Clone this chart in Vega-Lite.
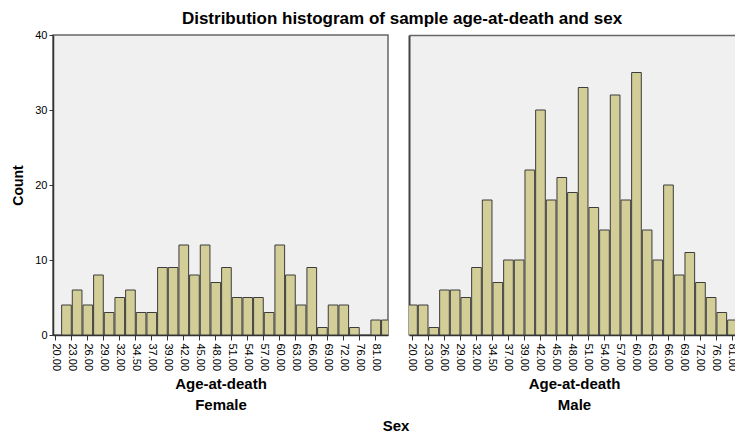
{
  "$schema": "https://vega.github.io/schema/vega-lite/v6.json",
  "background": "white",
  "padding": {"left": 11, "top": 10, "right": 0, "bottom": 2},
  "title": {"text": "Distribution histogram of sample age-at-death and sex", "anchor": "middle", "frame": "bounds", "fontSize": 17, "fontWeight": "bold", "font": "Liberation Sans", "color": "#000000", "offset": 0, "dx": 27},
  "vconcat": [
    {
      "title": {"text": "Sex", "orient": "bottom", "anchor": "middle", "frame": "bounds", "fontSize": 15, "fontWeight": "bold", "font": "Liberation Sans", "color": "#000000", "offset": 6, "dx": 21},
      "spacing": 17,
      "resolve": {"scale": {"x": "independent"}},
      "hconcat": [
        {
          "width": 335,
          "height": 300,
          "data": {"values": [
            {"start": 21, "end": 23, "count": 4}, {"start": 23, "end": 25, "count": 6}, {"start": 25, "end": 27, "count": 4},
            {"start": 27, "end": 29, "count": 8}, {"start": 29, "end": 31, "count": 3}, {"start": 31, "end": 33, "count": 5},
            {"start": 33, "end": 35, "count": 6}, {"start": 35, "end": 37, "count": 3}, {"start": 37, "end": 39, "count": 3},
            {"start": 39, "end": 41, "count": 9}, {"start": 41, "end": 43, "count": 9}, {"start": 43, "end": 45, "count": 12},
            {"start": 45, "end": 47, "count": 8}, {"start": 47, "end": 49, "count": 12}, {"start": 49, "end": 51, "count": 7},
            {"start": 51, "end": 53, "count": 9}, {"start": 53, "end": 55, "count": 5}, {"start": 55, "end": 57, "count": 5},
            {"start": 57, "end": 59, "count": 5}, {"start": 59, "end": 61, "count": 3}, {"start": 61, "end": 63, "count": 12},
            {"start": 63, "end": 65, "count": 8}, {"start": 65, "end": 67, "count": 4}, {"start": 67, "end": 69, "count": 9},
            {"start": 69, "end": 71, "count": 1}, {"start": 71, "end": 73, "count": 4}, {"start": 73, "end": 75, "count": 4},
            {"start": 75, "end": 77, "count": 1}, {"start": 79, "end": 81, "count": 2}, {"start": 81, "end": 83, "count": 2}
          ]},
          "mark": {"type": "bar", "clip": true, "fill": "#d3ce97", "stroke": "#3c3c3c", "strokeWidth": 1},
          "encoding": {
            "x": {"field": "start", "type": "quantitative", "bin": "binned",
              "scale": {"domain": [19.57, 82.39], "nice": false, "zero": false},
              "axis": {"values": [20,23,26,29,32,35,38,41,44,47,50,53,56,59,62,65,68,71,74,77,80],
                "labelExpr": "['20.00','23.00','26.00','29.00','32.00','34.50','37.00','39.00','42.00','45.00','48.00','51.00','54.00','57.00','60.00','63.00','66.00','69.00','72.00','76.00','81.00'][round((datum.value-20)/3)]",
                "title": ["Age-at-death", "Female"]}},
            "x2": {"field": "end"},
            "y": {"field": "count", "type": "quantitative",
              "scale": {"domain": [0, 40], "nice": false},
              "axis": {"values": [0, 10, 20, 30, 40], "title": "Count", "titleFontSize": 14, "titlePadding": 9}}
          }
        },
        {
          "width": 330,
          "height": 300,
          "view": {"stroke": null},
          "data": {"values": [
            {"start": 19, "end": 21, "count": 4}, {"start": 21, "end": 23, "count": 4}, {"start": 23, "end": 25, "count": 1},
            {"start": 25, "end": 27, "count": 6}, {"start": 27, "end": 29, "count": 6}, {"start": 29, "end": 31, "count": 5},
            {"start": 31, "end": 33, "count": 9}, {"start": 33, "end": 35, "count": 18}, {"start": 35, "end": 37, "count": 7},
            {"start": 37, "end": 39, "count": 10}, {"start": 39, "end": 41, "count": 10}, {"start": 41, "end": 43, "count": 22},
            {"start": 43, "end": 45, "count": 30}, {"start": 45, "end": 47, "count": 18}, {"start": 47, "end": 49, "count": 21},
            {"start": 49, "end": 51, "count": 19}, {"start": 51, "end": 53, "count": 33}, {"start": 53, "end": 55, "count": 17},
            {"start": 55, "end": 57, "count": 14}, {"start": 57, "end": 59, "count": 32}, {"start": 59, "end": 61, "count": 18},
            {"start": 61, "end": 63, "count": 35}, {"start": 63, "end": 65, "count": 14}, {"start": 65, "end": 67, "count": 10},
            {"start": 67, "end": 69, "count": 20}, {"start": 69, "end": 71, "count": 8}, {"start": 71, "end": 73, "count": 11},
            {"start": 73, "end": 75, "count": 7}, {"start": 75, "end": 77, "count": 5}, {"start": 77, "end": 79, "count": 3},
            {"start": 79, "end": 81, "count": 2}
          ]},
          "layer": [
            {
              "mark": {"type": "bar", "clip": true, "fill": "#d3ce97", "stroke": "#3c3c3c", "strokeWidth": 1},
              "encoding": {
                "x": {"field": "start", "type": "quantitative", "bin": "binned",
                  "scale": {"domain": [19.44, 81.32], "nice": false, "zero": false},
                  "axis": {"values": [20,23,26,29,32,35,38,41,44,47,50,53,56,59,62,65,68,71,74,77,80],
                    "labelExpr": "['20.00','23.00','26.00','29.00','32.00','34.50','37.00','39.00','42.00','45.00','48.00','51.00','54.00','57.00','60.00','63.00','66.00','69.00','72.00','76.00','81.00'][round((datum.value-20)/3)]",
                    "title": ["Age-at-death", "Male"]}},
                "x2": {"field": "end"},
                "y": {"field": "count", "type": "quantitative",
                  "scale": {"domain": [0, 40], "nice": false},
                  "axis": {"labels": false, "ticks": false, "title": null, "values": [0, 40], "domainColor": "#444444", "domainWidth": 2}}
              }
            },
            {
              "mark": {"type": "rule", "opacity": 0},
              "encoding": {
                "x": {"field": "start", "type": "quantitative",
                  "axis": {"orient": "top", "labels": false, "ticks": false, "title": null, "domainColor": "#666666", "domainWidth": 1.5}}
              }
            }
          ],
          "resolve": {"axis": {"x": "independent"}}
        }
      ]
    }
  ],
  "config": {
    "font": "Liberation Sans",
    "view": {"fill": "#f0f0f0", "stroke": "#666666", "strokeWidth": 1.5},
    "axis": {
      "grid": false,
      "domainColor": "#333333",
      "domainWidth": 1.5,
      "tickColor": "#333333",
      "tickSize": 4,
      "labelFont": "Liberation Sans",
      "labelFontSize": 11,
      "labelColor": "#000000",
      "titleFont": "Liberation Sans",
      "titleFontWeight": "bold",
      "titleColor": "#000000"
    },
    "axisX": {"labelAngle": 90, "labelPadding": 3, "tickSize": 5, "titleFontSize": 15, "titleLineHeight": 21, "titlePadding": 6, "labelFlush": false, "labelOverlap": false},
    "axisY": {"labelPadding": 2, "tickSize": 4}
  }
}
